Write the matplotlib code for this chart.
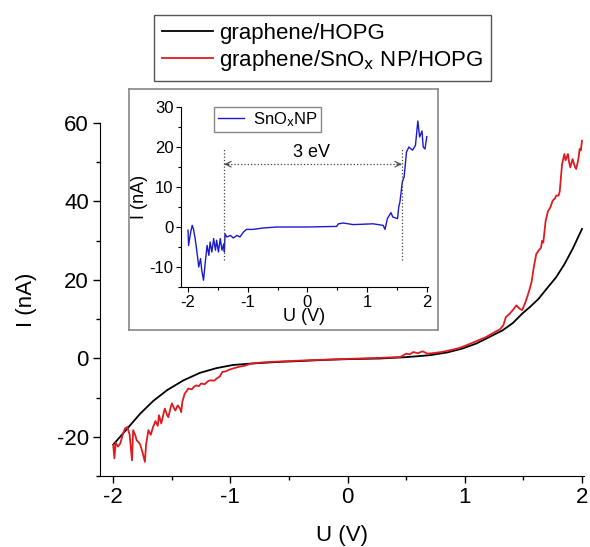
import matplotlib
matplotlib.use("Agg")
import matplotlib.pyplot as plt
from matplotlib.ticker import MultipleLocator

plt.rcParams["font.family"] = ["Liberation Sans", "DejaVu Sans"]
plt.rcParams["mathtext.default"] = "regular"
plt.rcParams["axes.unicode_minus"] = False

# graphene/HOPG (black)
u_black = [-2.0, -1.88, -1.77, -1.66, -1.54, -1.40, -1.26, -1.12, -0.98, -0.81, -0.58, -0.41,
           -0.2, 0.0, 0.27, 0.5, 0.70, 0.85, 0.98, 1.1, 1.24, 1.32, 1.41, 1.49, 1.56, 1.63,
           1.70, 1.78, 1.85, 1.92, 2.0]
i_black = [-22.0, -17.9, -14.1, -10.9, -8.1, -5.6, -3.7, -2.5, -1.7, -1.3, -0.9, -0.7,
           -0.4, -0.2, -0.05, 0.3, 0.8, 1.5, 2.5, 3.8, 5.9, 7.1, 9.0, 11.4, 13.2, 15.2,
           17.8, 20.7, 24.0, 27.9, 33.0]

# graphene/SnOx NP/HOPG (red)
u_red = [-2.0, -1.99, -1.98, -1.96, -1.94, -1.92, -1.90, -1.88, -1.86, -1.84, -1.83, -1.81,
         -1.80, -1.78, -1.77, -1.75, -1.73, -1.72, -1.70, -1.68, -1.66, -1.64, -1.62, -1.61,
         -1.59, -1.57, -1.56, -1.54, -1.53, -1.51, -1.50, -1.48, -1.47, -1.45, -1.43, -1.42,
         -1.41, -1.39, -1.37, -1.36, -1.33, -1.31, -1.29, -1.27, -1.25, -1.22, -1.19, -1.17,
         -1.14, -1.12, -1.09, -1.07, -1.04, -1.01, -0.98, -0.92, -0.88, -0.83, -0.75, -0.65,
         -0.5, -0.3, -0.1, 0.1, 0.3, 0.45, 0.50, 0.53, 0.56, 0.60, 0.64, 0.68, 0.72, 0.80,
         0.88, 0.95, 1.02, 1.10, 1.18, 1.25, 1.30, 1.33, 1.35, 1.38, 1.41, 1.44, 1.47, 1.49,
         1.52, 1.55, 1.57, 1.59, 1.61, 1.63, 1.65, 1.66, 1.67, 1.69, 1.71, 1.73, 1.75, 1.77,
         1.78, 1.80, 1.81, 1.83, 1.85, 1.86, 1.88, 1.89, 1.90, 1.92, 1.94, 1.95, 1.96, 1.97,
         1.98, 1.99, 2.0]
i_red = [-22.1, -25.5, -21.5, -22.5, -21.7, -19.5, -17.9, -17.5, -19.5, -26.0, -18.3, -19.8,
         -20.9, -21.5, -22.0, -24.0, -26.4, -22.0, -18.3, -19.5, -17.5, -16.0, -17.2, -14.5,
         -16.6, -14.0, -12.8, -14.5, -15.0, -12.5, -11.5, -12.8, -13.3, -12.0, -12.8, -13.7,
         -11.0, -9.0, -8.2, -7.7, -7.9, -7.2, -6.9, -7.1, -6.4, -6.6, -5.8, -5.6,
         -5.7, -5.2, -4.6, -3.5, -3.3, -2.9, -2.6, -2.1, -1.9, -1.4, -1.1, -0.9,
         -0.7, -0.45, -0.25, -0.05, 0.15, 0.35, 1.2, 1.0, 1.6, 1.3, 1.8, 1.2, 1.3, 1.6,
         2.1, 2.6, 3.4, 4.4, 5.4, 6.6, 7.4, 8.5, 10.5, 11.3, 12.3, 13.5, 12.6, 12.3,
         14.5, 17.3, 19.5, 23.5, 26.6, 27.5, 28.2, 30.0, 29.5, 35.1, 37.5, 38.5, 40.2, 40.8,
         41.5, 41.5, 42.5, 49.5, 52.1, 50.5, 52.1, 50.0, 48.7, 50.8, 48.8, 48.3, 49.5, 51.0,
         53.4, 53.0, 55.5]

# inset: SnOx NP (blue)
u_blue = [-2.0, -1.99, -1.96, -1.93, -1.91, -1.88, -1.85, -1.82, -1.79, -1.77, -1.74, -1.71,
          -1.68, -1.65, -1.63, -1.60, -1.57, -1.54, -1.52, -1.49, -1.46, -1.43, -1.40, -1.39,
          -1.38, -1.35, -1.29, -1.24, -1.18, -1.13, -1.07, -1.02, -0.91, -0.74, -0.51, -0.01,
          0.49, 0.52, 0.60, 0.77, 1.10, 1.27, 1.30, 1.34, 1.40, 1.43, 1.51, 1.53, 1.55, 1.59,
          1.62, 1.66, 1.70, 1.76, 1.81, 1.85, 1.88, 1.92, 1.94, 1.97, 2.0]
i_blue = [-0.8, -4.6, -1.7, 0.4, -0.4, -2.9, -6.25, -10.0, -7.9, -10.8, -13.3, -8.75,
          -4.6, -7.1, -3.75, -6.25, -2.9, -5.8, -3.3, -6.25, -2.9, -5.8, -4.2, -6.25,
          -1.7, -2.5, -2.1, -2.75, -2.1, -2.5, -1.25, -0.6, -0.6, -0.25, 0.0, 0.0,
          0.15, 0.8, 1.0, 0.6, 0.8, 0.4, -0.6, 2.1, 3.6, 2.5, 2.1, 5.0, 6.25, 11.25,
          12.5, 18.75, 20.0, 19.2, 20.4, 26.5, 22.5, 24.0, 20.0, 19.5, 22.6]

gap_left = -1.39
gap_right = 1.58
gap_label = "3 eV"

fig = plt.figure(figsize=(5.9, 5.47), dpi=100)

ax = fig.add_axes([0.1695, 0.1298, 0.8195, 0.6453])
ax.plot(u_black, i_black, color="black", lw=1.3, label="graphene/HOPG")
ax.plot(u_red, i_red, color="#e01b1f", lw=1.3, label=r"graphene/SnO$_\mathrm{x}$ NP/HOPG")
ax.set_xlim(-2.113, 2.013)
ax.set_ylim(-30, 60)
ax.xaxis.set_major_locator(MultipleLocator(1))
ax.xaxis.set_minor_locator(MultipleLocator(0.5))
ax.yaxis.set_major_locator(MultipleLocator(20))
ax.yaxis.set_minor_locator(MultipleLocator(10))
ax.spines["top"].set_visible(False)
ax.spines["right"].set_visible(False)
ax.tick_params(which="major", direction="out", length=5, width=1, labelsize=16, pad=3)
ax.tick_params(which="minor", direction="out", length=3, width=1)
ax.set_xlabel("U (V)", fontsize=16, labelpad=12)
ax.set_ylabel("I (nA)", fontsize=16, labelpad=14)

leg = fig.legend(loc="upper center", bbox_to_anchor=(0.5466, 0.9726), fontsize=16,
                 frameon=True, fancybox=False, edgecolor="#555555", framealpha=1,
                 handlelength=2.3, handletextpad=0.3, labelspacing=0.2,
                 borderpad=0.35, borderaxespad=0)
leg.get_frame().set_linewidth(1.0)

# inset frame
frame = fig.add_axes([0.2186, 0.3967, 0.5238, 0.4406])
frame.set_xticks([])
frame.set_yticks([])
for s in frame.spines.values():
    s.set_color("#888888")
    s.set_linewidth(1.2)

ins = fig.add_axes([0.3068, 0.4753, 0.4186, 0.3291])
ins.plot(u_blue, i_blue, color="#1a1ad0", lw=1.0, label=r"SnO$_\mathrm{x}$NP")
ins.set_xlim(-2.117, 2.02)
ins.set_ylim(-15, 30)
ins.xaxis.set_major_locator(MultipleLocator(1))
ins.xaxis.set_minor_locator(MultipleLocator(0.5))
ins.yaxis.set_major_locator(MultipleLocator(10))
ins.yaxis.set_minor_locator(MultipleLocator(5))
ins.spines["top"].set_visible(False)
ins.spines["right"].set_visible(False)
ins.tick_params(which="major", direction="out", length=3.5, width=0.8, labelsize=12, pad=2)
ins.tick_params(which="minor", direction="out", length=2, width=0.8)
ins.set_xlabel("U (V)", fontsize=13, labelpad=-1)
ins.set_ylabel("I (nA)", fontsize=13, labelpad=1)

ins.vlines([gap_left, gap_right], -8.3, 19.6, colors="#444444", linestyles=":", lw=0.9)
ins.plot([gap_left, gap_right], [15.7, 15.7], ":", color="#444444", lw=0.9)
ins.annotate("", xy=(gap_left, 15.7), xytext=(gap_left + 0.08, 15.7),
             arrowprops=dict(arrowstyle="->", color="#444444", lw=0.8, shrinkA=0, shrinkB=0))
ins.annotate("", xy=(gap_right, 15.7), xytext=(gap_right - 0.08, 15.7),
             arrowprops=dict(arrowstyle="->", color="#444444", lw=0.8, shrinkA=0, shrinkB=0))
ins.text((gap_left + gap_right) / 2 - 0.02, 16.4, gap_label, ha="center", va="bottom", fontsize=13)

ileg = ins.legend(loc="upper left", bbox_to_anchor=(0.135, 1.0), fontsize=12,
                  frameon=True, fancybox=False, edgecolor="#888888", framealpha=1,
                  handlelength=1.6, handletextpad=0.5, borderpad=0.2, borderaxespad=0)
ileg.get_frame().set_linewidth(1.0)

fig.savefig("out.png", dpi=100)
